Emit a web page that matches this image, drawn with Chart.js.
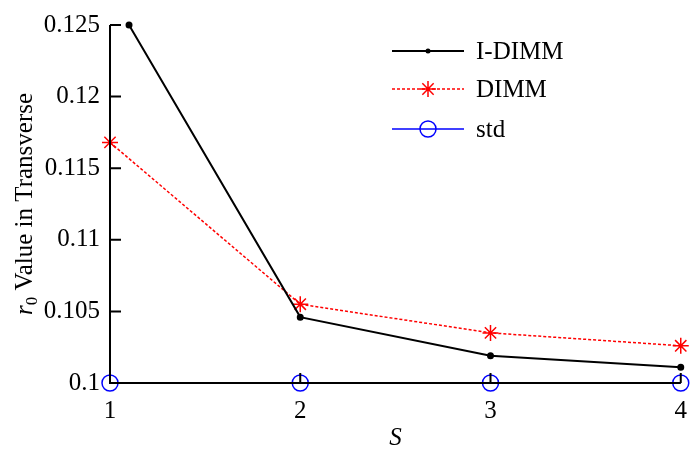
<!DOCTYPE html>
<html>
<head>
<meta charset="utf-8">
<script src="https://cdn.jsdelivr.net/npm/chart.js@4/dist/chart.umd.min.js"></script>
<style>
  html, body { margin: 0; padding: 0; background: #fff; }
</style>
</head>
<body>
<canvas id="grafico" width="700" height="454"></canvas>
<script>
// datos
const etiquetasS = [1, 2, 3, 4];
const xIDimm = [1.1, 2, 3, 4];
const valIDimm = [0.125, 0.1046, 0.1019, 0.1011];
const valDimm = [0.1168, 0.1055, 0.1035, 0.1026];
const valStd = [0.1, 0.1, 0.1, 0.1];
const ticksY = [0.1, 0.105, 0.11, 0.115, 0.12, 0.125];
const nombres = ['I-DIMM', 'DIMM', 'std'];

const fuente = 'Liberation Serif, Times New Roman, serif';

function dibujarMarca(ctx, estilo, x, y, r, color) {
  ctx.save();
  ctx.strokeStyle = color;
  ctx.fillStyle = color;
  ctx.lineWidth = 1.5;
  ctx.setLineDash([]);
  ctx.beginPath();
  if (estilo === 'circle' && r < 4) {
    ctx.arc(x, y, r, 0, Math.PI * 2);
    ctx.fill();
  } else if (estilo === 'circle') {
    ctx.arc(x, y, r, 0, Math.PI * 2);
    ctx.stroke();
  } else {
    for (let a = 0; a < 4; a++) {
      const ang = a * Math.PI / 4;
      ctx.moveTo(x - r * Math.cos(ang), y - r * Math.sin(ang));
      ctx.lineTo(x + r * Math.cos(ang), y + r * Math.sin(ang));
    }
    ctx.stroke();
  }
  ctx.restore();
}

const ejesPropios = {
  id: 'ejesPropios',
  afterDatasetsDraw(chart) {
    const { ctx, chartArea: ca, scales: { x, y } } = chart;
    ctx.save();
    ctx.strokeStyle = '#000';
    ctx.lineWidth = 2;
    ctx.beginPath();
    ctx.moveTo(ca.left, ca.top);
    ctx.lineTo(ca.left, ca.bottom);
    ctx.lineTo(ca.right, ca.bottom);
    ticksY.forEach(v => {
      const py = y.getPixelForValue(v);
      ctx.moveTo(ca.left, py);
      ctx.lineTo(ca.left + 11, py);
    });
    etiquetasS.forEach(v => {
      const px = x.getPixelForValue(v);
      ctx.moveTo(px, ca.bottom);
      ctx.lineTo(px, ca.bottom - 10);
    });
    ctx.stroke();
    ctx.restore();
  },
  afterDraw(chart) {
    const { ctx, chartArea: ca } = chart;
    ctx.save();
    ctx.fillStyle = '#000';

    // titulo eje y: r0 Value in Transverse
    const cy = (ca.top + ca.bottom) / 2;
    ctx.translate(24, cy);
    ctx.rotate(-Math.PI / 2);
    ctx.textBaseline = 'alphabetic';
    ctx.font = 'italic 25px ' + fuente;
    const wR = ctx.measureText('r').width;
    ctx.font = '17px ' + fuente;
    const w0 = ctx.measureText('0').width;
    ctx.font = '25px ' + fuente;
    const wResto = ctx.measureText(' Value in Transverse').width;
    let px = -(wR + w0 + wResto) / 2;
    ctx.font = 'italic 25px ' + fuente;
    ctx.fillText('r', px, 8);
    px += wR;
    ctx.font = '17px ' + fuente;
    ctx.fillText('0', px, 13);
    px += w0;
    ctx.font = '25px ' + fuente;
    ctx.fillText(' Value in Transverse', px, 8);
    ctx.restore();

    // titulo eje x
    ctx.save();
    ctx.fillStyle = '#000';
    ctx.font = 'italic 25px ' + fuente;
    ctx.textAlign = 'center';
    ctx.textBaseline = 'middle';
    ctx.fillText('S', (ca.left + ca.right) / 2, 438);
    ctx.restore();

    // leyenda
    const filas = [51, 89, 129];
    chart.data.datasets.forEach((ds, i) => {
      const yy = filas[i];
      ctx.save();
      ctx.strokeStyle = ds.borderColor;
      ctx.lineWidth = ds.borderWidth;
      ctx.setLineDash(ds.borderDash || []);
      ctx.beginPath();
      ctx.moveTo(392, yy);
      ctx.lineTo(464, yy);
      ctx.stroke();
      ctx.restore();
      dibujarMarca(ctx, ds.pointStyle, 428, yy, ds.pointRadius, ds.borderColor);
      ctx.save();
      ctx.fillStyle = '#000';
      ctx.font = '25px ' + fuente;
      ctx.textBaseline = 'middle';
      ctx.fillText(ds.label, 476, yy + 1);
      ctx.restore();
    });
  }
};

const ctxGraf = document.getElementById('grafico');
new Chart(ctxGraf, {
  type: 'line',
  data: {
    datasets: [
      {
        label: nombres[0],
        data: valIDimm.map((v, i) => ({ x: xIDimm[i], y: v })),
        borderColor: '#000',
        backgroundColor: '#000',
        borderWidth: 2,
        pointStyle: 'circle',
        pointRadius: 2.5,
        tension: 0
      },
      {
        label: nombres[1],
        data: valDimm.map((v, i) => ({ x: etiquetasS[i], y: v })),
        borderColor: '#ff0000',
        backgroundColor: 'transparent',
        borderWidth: 1.5,
        borderDash: [3, 2],
        pointStyle: 'star',
        pointRadius: 8,
        pointBorderWidth: 1.5,
        tension: 0
      },
      {
        label: nombres[2],
        data: valStd.map((v, i) => ({ x: etiquetasS[i], y: v })),
        borderColor: '#0000ff',
        backgroundColor: 'transparent',
        borderWidth: 1.5,
        pointStyle: 'circle',
        pointRadius: 8,
        pointBorderWidth: 1.5,
        tension: 0
      }
    ]
  },
  options: {
    responsive: false,
    animation: false,
    clip: false,
    layout: { padding: { top: 14, right: 17, left: 0, bottom: 0 } },
    plugins: { legend: { display: false }, tooltip: { enabled: false } },
    scales: {
      x: {
        type: 'linear',
        min: 1,
        max: 4,
        afterBuildTicks: s => { s.ticks = etiquetasS.map(v => ({ value: v })); },
        afterFit: s => { s.height = 71; },
        grid: { display: false, drawTicks: false },
        border: { display: false },
        ticks: { color: '#000', padding: 13, font: { family: fuente, size: 25 } }
      },
      y: {
        min: 0.1,
        max: 0.125,
        afterBuildTicks: s => { s.ticks = ticksY.map(v => ({ value: v })); },
        afterFit: s => { s.width = 110; },
        grid: { display: false, drawTicks: false },
        border: { display: false },
        ticks: {
          color: '#000',
          padding: 10,
          font: { family: fuente, size: 25 },
          callback: v => String(+v.toFixed(3))
        }
      }
    }
  },
  plugins: [ejesPropios]
});
</script>
</body>
</html>
